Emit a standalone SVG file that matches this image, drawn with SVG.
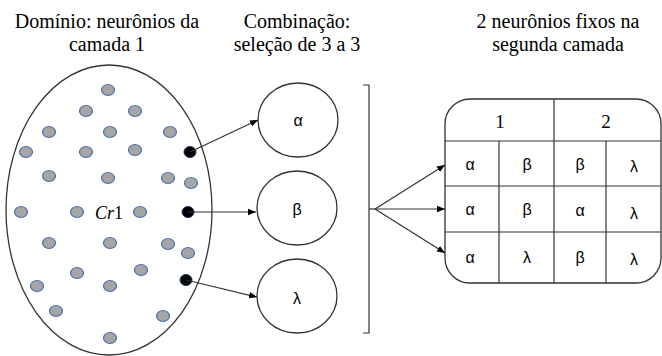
<svg xmlns="http://www.w3.org/2000/svg" width="662" height="356" viewBox="0 0 662 356">
  <style>
    .title { font-family: "Liberation Serif", "Times New Roman", serif; font-size: 20px; fill: #000; text-anchor: middle; }
    .greek { font-family: "Liberation Sans", Arial, sans-serif; font-size: 16px; fill: #000; text-anchor: middle; dominant-baseline: central; }
    .num { font-family: "Liberation Serif", "Times New Roman", serif; font-size: 19px; fill: #000; text-anchor: middle; dominant-baseline: central; }
    .cr { font-family: "Liberation Serif", "Times New Roman", serif; font-size: 18px; fill: #000; text-anchor: middle; }
    .line { stroke: #333; stroke-width: 1.2; fill: none; }
    .dot { fill: #A5A5A5; stroke: #4A6FB0; stroke-width: 1.2; }
    .sel { fill: #000; stroke: #1F3864; stroke-width: 1; }
    .shape { fill: #fff; stroke: #333; stroke-width: 1.3; }
  </style>
  <defs>
    <marker id="arrow" viewBox="0 0 10 10" refX="10" refY="5" markerWidth="8" markerHeight="8" markerUnits="userSpaceOnUse" orient="auto">
      <path d="M0,1 L10,5 L0,9 Z" fill="#000"/>
    </marker>
  </defs>

  <rect width="662" height="356" fill="#fff"/>

  <!-- column headings -->
  <g id="titles">
    <text class="title" x="107" y="28">Domínio: neurônios da</text>
    <text class="title" x="107" y="51">camada 1</text>
    <text class="title" x="297" y="28">Combinação:</text>
    <text class="title" x="297" y="51">seleção de 3 a 3</text>
    <text class="title" x="558" y="28">2 neurônios fixos na</text>
    <text class="title" x="558" y="51">segunda camada</text>
  </g>

  <!-- layer 1 domain -->
  <g id="domain">
    <ellipse class="shape" cx="109" cy="210" rx="103" ry="145"/>
    <g>
      <ellipse class="dot" cx="108" cy="90" rx="6.5" ry="5.5"/>
      <ellipse class="dot" cx="86" cy="111" rx="6.5" ry="5.5"/>
      <ellipse class="dot" cx="135" cy="111" rx="6.5" ry="5.5"/>
      <ellipse class="dot" cx="49" cy="132" rx="6.5" ry="5.5"/>
      <ellipse class="dot" cx="110" cy="132" rx="6.5" ry="5.5"/>
      <ellipse class="dot" cx="170" cy="132" rx="6.5" ry="5.5"/>
      <ellipse class="dot" cx="26" cy="152" rx="6.5" ry="5.5"/>
      <ellipse class="dot" cx="86" cy="152" rx="6.5" ry="5.5"/>
      <ellipse class="dot" cx="135" cy="150" rx="6.5" ry="5.5"/>
      <ellipse class="dot" cx="49" cy="176" rx="6.5" ry="5.5"/>
      <ellipse class="dot" cx="108" cy="178" rx="6.5" ry="5.5"/>
      <ellipse class="dot" cx="168" cy="178" rx="6.5" ry="5.5"/>
      <ellipse class="dot" cx="191" cy="183" rx="6.5" ry="5.5"/>
      <ellipse class="dot" cx="21" cy="212" rx="6.5" ry="5.5"/>
      <ellipse class="dot" cx="77" cy="212" rx="6.5" ry="5.5"/>
      <ellipse class="dot" cx="140" cy="212" rx="6.5" ry="5.5"/>
      <ellipse class="dot" cx="49" cy="243" rx="6.5" ry="5.5"/>
      <ellipse class="dot" cx="110" cy="243" rx="6.5" ry="5.5"/>
      <ellipse class="dot" cx="168" cy="244" rx="6.5" ry="5.5"/>
      <ellipse class="dot" cx="188" cy="253" rx="6.5" ry="5.5"/>
      <ellipse class="dot" cx="77" cy="273" rx="6.5" ry="5.5"/>
      <ellipse class="dot" cx="141" cy="270" rx="6.5" ry="5.5"/>
      <ellipse class="dot" cx="37" cy="286" rx="6.5" ry="5.5"/>
      <ellipse class="dot" cx="110" cy="286" rx="6.5" ry="5.5"/>
      <ellipse class="dot" cx="56" cy="311" rx="6.5" ry="5.5"/>
      <ellipse class="dot" cx="163" cy="316" rx="6.5" ry="5.5"/>
      <ellipse class="dot" cx="110" cy="338" rx="6.5" ry="5.5"/>
    </g>
    <ellipse class="sel" cx="190" cy="152" rx="6" ry="5.5"/>
    <ellipse class="sel" cx="188" cy="212" rx="6" ry="5.5"/>
    <ellipse class="sel" cx="186" cy="280" rx="6" ry="5.5"/>
    <text class="cr" x="109" y="219"><tspan font-style="italic">Cr</tspan>1</text>
  </g>

  <!-- selected neurons -->
  <g id="node-alpha">
    <ellipse class="shape" cx="298" cy="120" rx="40" ry="37"/>
    <text class="greek" x="298" y="120">α</text>
  </g>
  <g id="node-beta">
    <ellipse class="shape" cx="297" cy="208" rx="40" ry="37"/>
    <text class="greek" x="297" y="209">β</text>
  </g>
  <g id="node-lambda">
    <ellipse class="shape" cx="297" cy="296" rx="40" ry="37"/>
    <text class="greek" x="297" y="298">λ</text>
  </g>

  <!-- second layer table -->
  <g id="table">
    <rect class="shape" x="445" y="99" width="216" height="184" rx="25" ry="25"/>
    <line class="line" x1="445" y1="141" x2="661" y2="141"/>
    <line class="line" x1="445" y1="186" x2="661" y2="186"/>
    <line class="line" x1="445" y1="232" x2="661" y2="232"/>
    <line class="line" x1="554" y1="99" x2="554" y2="283"/>
    <line class="line" x1="499" y1="141" x2="499" y2="283"/>
    <line class="line" x1="606" y1="141" x2="606" y2="283"/>
    <text class="num" x="500" y="121">1</text>
    <text class="num" x="606" y="121">2</text>
    <text class="greek" x="470" y="164">α</text>
    <text class="greek" x="527" y="164">β</text>
    <text class="greek" x="580" y="164">β</text>
    <text class="greek" x="634" y="166">λ</text>
    <text class="greek" x="470" y="209">α</text>
    <text class="greek" x="527" y="209">β</text>
    <text class="greek" x="580" y="210">α</text>
    <text class="greek" x="634" y="213">λ</text>
    <text class="greek" x="470" y="257">α</text>
    <text class="greek" x="527" y="257">λ</text>
    <text class="greek" x="580" y="257">β</text>
    <text class="greek" x="634" y="259">λ</text>
  </g>

  <!-- connectors -->
  <g id="connectors">
    <line class="line" x1="190" y1="152" x2="258" y2="120" marker-end="url(#arrow)"/>
    <line class="line" x1="188" y1="212" x2="256" y2="212" marker-end="url(#arrow)"/>
    <line class="line" x1="186" y1="280" x2="257" y2="297" marker-end="url(#arrow)"/>
    <path class="line" d="M363,85 H369 V333 H363"/>
    <line class="line" x1="369" y1="209" x2="375" y2="209"/>
    <line class="line" x1="375" y1="209" x2="445" y2="165" marker-end="url(#arrow)"/>
    <line class="line" x1="375" y1="209" x2="445" y2="209" marker-end="url(#arrow)"/>
    <line class="line" x1="375" y1="209" x2="445" y2="253" marker-end="url(#arrow)"/>
  </g>
</svg>
